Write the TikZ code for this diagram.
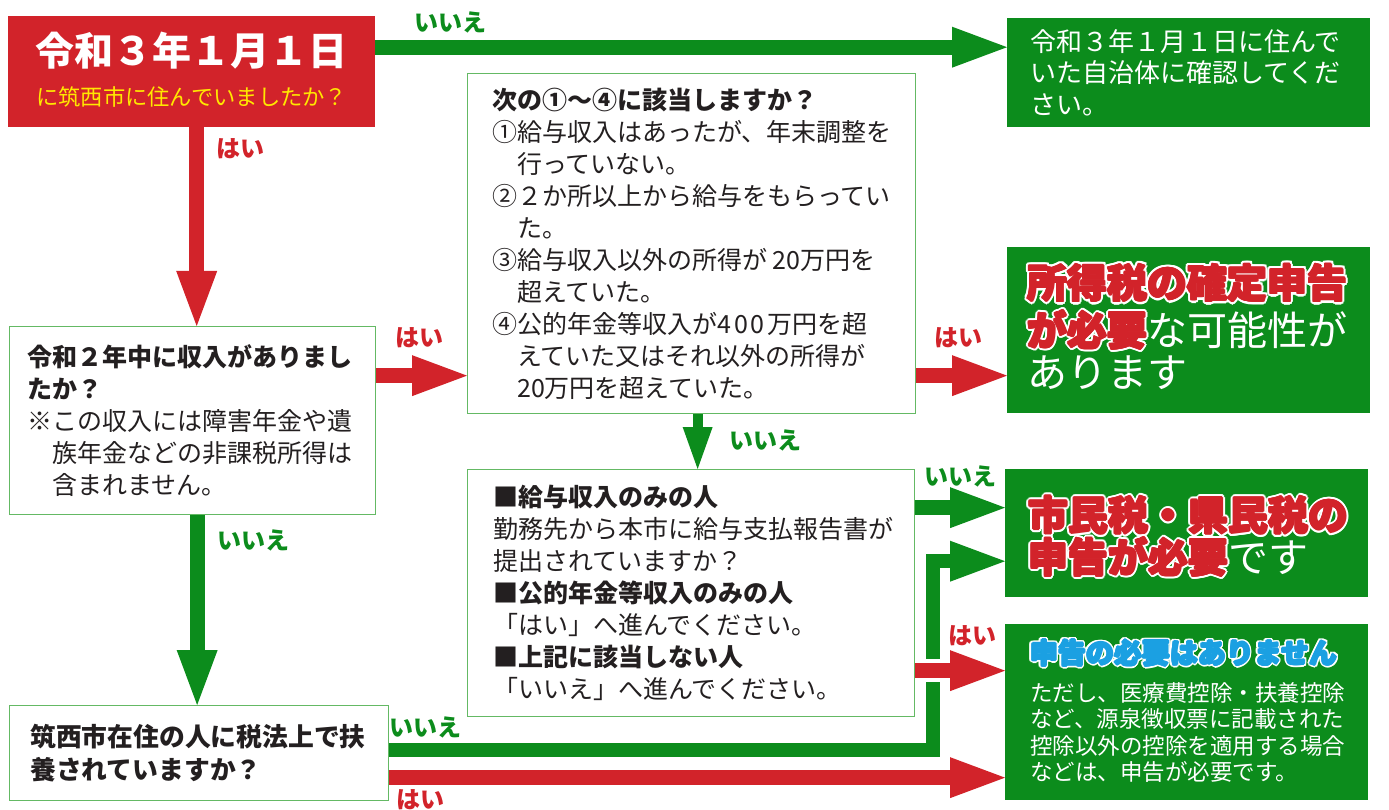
\documentclass[tikz,border=0pt]{standalone}
\usepackage{fontspec}
\newfontfamily\jp{Noto Sans CJK JP}
\usetikzlibrary{arrows.meta,positioning}

\definecolor{jred}{RGB}{210,35,42}
\definecolor{jgreen}{RGB}{12,140,28}
\definecolor{jline}{RGB}{100,185,100}
\definecolor{jblue}{RGB}{27,160,226}
\definecolor{jyellow}{RGB}{255,232,0}
\definecolor{jink}{RGB}{35,31,32}

% heavy coloured text with a white rim: [rim]{node options}{name}{colour}{text}
\newcommand\halonode[5][3pt]{%
  \foreach \ang in {0,22.5,...,337.5}
    \node[#2, text=white, shift={(\ang:#1)}] {#5};
  \foreach \ang in {0,45,...,315}
    \node[#2, text=#4, shift={(\ang:0.8pt)}] {#5};
  \node[#2, text=#4] (#3) {#5};}

\tikzset{
  every node/.style={inner sep=0pt},
  qbox/.style={draw=jline, line width=1.3pt, fill=white, anchor=north west},
  gbox/.style={fill=jgreen, anchor=north west},
  body/.style={font=\jp\fontsize{25}{32}\selectfont, text=jink, align=left},
  gtext/.style={font=\jp\fontsize{26}{31.5}\selectfont, text=white, align=left},
  big/.style={font=\jp\bfseries\fontsize{40}{40}\selectfont, anchor=west},
  plain/.style={font=\jp\fontsize{40}{40}\selectfont, text=white},
  yes/.style={font=\jp\bfseries\fontsize{24}{24}\selectfont, text=jred},
  no/.style={yes, text=jgreen},
  redarr/.style={draw=jred, line width=15pt, -{Triangle[length=55pt,width=41pt,line width=0pt]}},
  grnarr/.style={draw=jgreen, line width=15pt, -{Triangle[length=55pt,width=41pt,line width=0pt]}},
}

\begin{document}
\begin{tikzpicture}[x=1pt, y=-1pt]
\useasboundingbox (0,0) rectangle (1389,810);
\fill[white] (0,0) rectangle (1389,810);

% boxes
\node[fill=jred, anchor=north west, minimum width=367pt, minimum height=111pt] (q1) at (8,16) {};
\node[gbox, minimum width=363pt, minimum height=109pt] (r1) at (1007,18) {};
\node[qbox, minimum width=366pt, minimum height=188pt] (q2) at (9,326) {};
\node[qbox, minimum width=448pt, minimum height=340pt] (m1) at (467,73) {};
\node[gbox, minimum width=363pt, minimum height=166pt] (r2) at (1007,247) {};
\node[qbox, minimum width=447pt, minimum height=247pt] (m2) at (467,469) {};
\node[gbox, minimum width=363pt, minimum height=128pt] (r3) at (1005,469) {};
\node[gbox, minimum width=363pt, minimum height=176pt] (r4) at (1005,624) {};
\node[qbox, minimum width=379pt, minimum height=95pt] (q3) at (9,705) {};

% texts
\node[font=\jp\bfseries\fontsize{39}{39}\selectfont, text=white] (q1a) at ([yshift=21.5pt]q1.center) {令和３年１月１日};
\node[font=\jp\fontsize{22.3}{22}\selectfont, text=jyellow] (q1b) at ([yshift=-25.5pt]q1.center) {に筑西市に住んでいましたか？};
\node[gtext, right=23pt of r1.west] (r1t) {令和３年１月１日に住んで\\いた自治体に確認してくだ\\さい。};
\node[body, right=18pt of q2.west] (q2t) {\textbf{令和２年中に収入がありまし}\\\textbf{たか？}\\※この収入には障害年金や遺\\\hspace*{1em}族年金などの非課税所得は\\\hspace*{1em}含まれません。};
\node[body, right=25pt of m1.west] (m1t) {\textbf{次の①～④に該当しますか？}\\①給与収入はあったが、年末調整を\\\hspace*{1em}行っていない。\\②２か所以上から給与をもらってい\\\hspace*{1em}た。\\③給与収入以外の所得が 20万円を\\\hspace*{1em}超えていた。\\④公的年金等収入が4\kern3pt0\kern3pt0\kern3pt万円を超\\\hspace*{1em}えていた又はそれ以外の所得が\\\hspace*{1em}20万円を超えていた。};
\node[body, right=26pt of m2.west] (m2t) {\textbf{■給与収入のみの人}\\勤務先から本市に給与支払報告書が\\提出されていますか？\\\textbf{■公的年金等収入のみの人}\\「はい」へ進んでください。\\\textbf{■上記に該当しない人}\\「いいえ」へ進んでください。};
\node[body, font=\jp\bfseries\fontsize{25.8}{33}\selectfont, right=21pt of q3.west] (q3t) {筑西市在住の人に税法上で扶\\養されていますか？};

\halonode{big, at={([xshift=20pt,yshift=-36pt]r2.north west)}}{r2a}{jred}{所得税の確定申告}
\halonode{big, at={([xshift=20pt,yshift=-83pt]r2.north west)}}{r2b}{jred}{が必要}
\node[plain, anchor=base west] (r2c) at (r2b.base east) {な可能性が};
\node[plain, anchor=west] (r2d) at ([xshift=20pt,yshift=-126pt]r2.north west) {あります};

\halonode{big, at={([xshift=23pt,yshift=-46pt]r3.north west)}}{r3a}{jred}{市民税・県民税の}
\halonode{big, at={([xshift=23pt,yshift=-88pt]r3.north west)}}{r3b}{jred}{申告が必要}
\node[plain, anchor=base west] (r3c) at (r3b.base east) {です};

\halonode[2.5pt]{font=\jp\bfseries\fontsize{28}{28}\selectfont, anchor=west, at={([xshift=25pt,yshift=-29pt]r4.north west)}}{r4a}{jblue}{申告の必要はありません}
\node[gtext, font=\jp\fontsize{22.5}{26.5}\selectfont, anchor=west] (r4b) at ([xshift=25pt,yshift=-108.5pt]r4.north west) {ただし、医療費控除・扶養控除\\など、源泉徴収票に記載された\\控除以外の控除を適用する場合\\などは、申告が必要です。};

% connectors
\coordinate (a1) at ([yshift=24.5pt]q1.east);
\draw[grnarr] (a1) -- (a1 -| r1.west);
\coordinate (a2) at ([xshift=5pt]q1.south);
\draw[redarr] (a2) -- (a2 |- q2.north);
\coordinate (a3) at ([yshift=45pt]q2.east);
\draw[redarr] (a3) -- (a3 -| m1.west);
\coordinate (a4) at ([yshift=-132pt]m1.east);
\draw[redarr] (a4) -- (a4 -| r2.west);
\coordinate (a5) at ([xshift=6pt]m1.south);
\draw[draw=jgreen, line width=10pt, -{Triangle[length=42pt,width=30pt,line width=0pt]}] (a5) -- (a5 |- m2.north);
\coordinate (a6) at ([xshift=4.5pt]q2.south);
\draw[grnarr] (a6) -- (a6 |- q3.north);
\coordinate (a7) at ([yshift=85.5pt]m2.east);
\draw[grnarr] (a7) -- (a7 -| r3.west);
\coordinate (a8) at ([yshift=3.5pt]q3.east);
\coordinate (a8b) at ([xshift=-72pt,yshift=-28pt]r3.west);
\draw[grnarr, line width=14pt] (a8) -| (a8b) -- (a8b -| r3.west);
\coordinate (a9) at ([yshift=-77.5pt]m2.east);
\draw[redarr, preaction={draw=white, line width=23pt}] (a9) -- (a9 -| r4.west);
\coordinate (a10) at ([yshift=-24.5pt]q3.east);
\draw[redarr] (a10) -- (a10 -| r4.west);

% labels
\node[no] (l1) at (450,22) {いいえ};
\node[yes] (l2) at (240,149) {はい};
\node[yes] (l3) at (419,338) {はい};
\node[yes] (l4) at (958,338) {はい};
\node[no] (l5) at (765,440) {いいえ};
\node[no] (l6) at (253,540) {いいえ};
\node[no] (l7) at (960,476) {いいえ};
\node[yes] (l8) at (972,636) {はい};
\node[no] (l9) at (425,727) {いいえ};
\node[yes] (l10) at (420,800) {はい};
\end{tikzpicture}
\end{document}
